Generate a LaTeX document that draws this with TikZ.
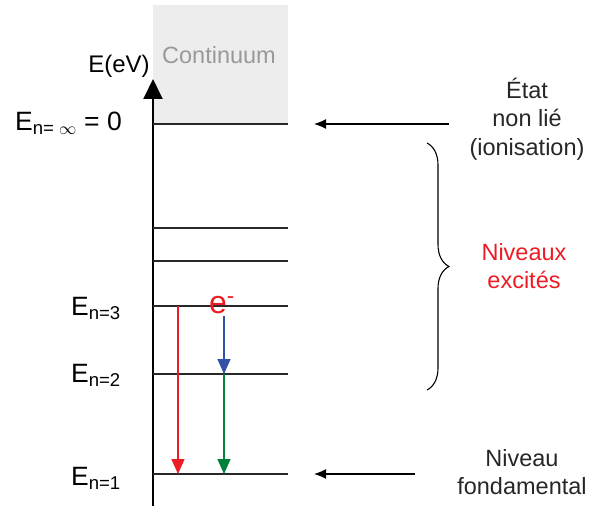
\documentclass[tikz,border=0pt]{standalone}
\usepackage{fontspec}
\setmainfont{Liberation Sans}
\usetikzlibrary{arrows.meta,decorations.pathreplacing}
\definecolor{lvl}{RGB}{40,40,40}
\definecolor{cred}{RGB}{237,28,36}
\definecolor{cblue}{RGB}{50,80,170}
\definecolor{cgreen}{RGB}{0,130,60}
\begin{document}
\begin{tikzpicture}[x=1pt,y=-1pt,
  level/.style={draw=lvl,line width=1.2pt},
  lbl/.style={font=\fontsize{26.5}{28}\selectfont,anchor=base east,inner sep=0pt},
  side/.style={font=\fontsize{23.5}{28.5}\selectfont,align=center,text=black!85},
  pointer/.style={draw=black,line width=1.4pt,-{Latex[length=12pt,width=10pt]}},
  trans/.style={line width=1.3pt,-{Triangle[length=15pt,width=13pt]}}]
\useasboundingbox (0,0) rectangle (603,508);
% continuum
\fill[black!7] (153,5) rectangle (288,124);
\node[text=black!40,font=\fontsize{23.5}{26}\selectfont] (cont) at (219,55) {Continuum};
% axis
\coordinate (ax0) at (153,506);
\coordinate (ax1) at (153,79);
\draw[line width=2pt,-{Triangle[length=20pt,width=19pt]}] (ax0) -- (ax1);
\node[font=\fontsize{24}{26}\selectfont] (eev) at (119,66) {E(eV)};
% levels
\foreach \n/\y in {inf/124,a/228,b/261,three/306,two/374,one/474}{
  \coordinate (L\n l) at (153,\y);
  \coordinate (L\n r) at (288,\y);
  \draw[level] (L\n l) -- (L\n r);
}
% labels
\node[lbl] (einf) at (122,131) {E\textsubscript{n= $\infty$} = 0};
\node[lbl] (e3) at (121,315) {E\textsubscript{n=3}};
\node[lbl] (e2) at (121,382) {E\textsubscript{n=2}};
\node[lbl] (e1) at (121,485) {E\textsubscript{n=1}};
% transitions
\coordinate (r0) at (178,306);
\coordinate (r1) at (178,474);
\draw[trans,draw=cred,fill=cred] (r0) -- (r1);
\node[text=cred,font=\fontsize{32}{34}\selectfont,inner sep=0pt,anchor=base west] (elec) at (209,313) {e\textsuperscript{-}};
\coordinate (b0) at (224,316);
\coordinate (b1) at (224,374);
\coordinate (g1) at (224,474);
\draw[trans,draw=cblue,fill=cblue] (b0) -- (b1);
\draw[trans,draw=cgreen,fill=cgreen] (b1) -- (g1);
% right side
\node[side] (etat) at (527,119) {État\\non lié\\(ionisation)};
\coordinate (p0) at (449,124);
\coordinate (p1) at (314,124);
\draw[pointer] (p0) -- (p1);
\coordinate (q0) at (415,474);
\coordinate (q1) at (314,474);
\draw[pointer] (q0) -- (q1);
\node[side] (fond) at (522,472) {Niveau\\fondamental};
\node[side,text=cred] (exc) at (524,266) {Niveaux\\excités};
\coordinate (br0) at (427,143);
\coordinate (br1) at (427,390);
\draw[line width=1.1pt,decorate,decoration={brace,amplitude=22pt,aspect=0.5}] (br0) -- (br1);
\end{tikzpicture}
\end{document}
